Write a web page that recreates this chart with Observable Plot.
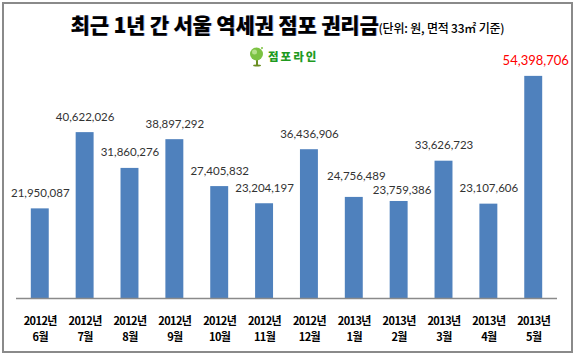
<!DOCTYPE html>
<html><head><meta charset="utf-8">
<script src="https://cdn.jsdelivr.net/npm/d3@7"></script>
<script src="https://cdn.jsdelivr.net/npm/@observablehq/plot@0.6"></script>
<style>
body{margin:0;background:#fff;}
#wrap{position:relative;width:575px;height:356px;overflow:hidden;}
#border{position:absolute;left:2px;top:2px;width:567px;height:347px;border:2px solid #8a8a8a;box-sizing:content-box;}
#title{position:absolute;left:0;top:9px;width:575px;text-align:center;white-space:nowrap;font-family:"Noto Sans CJK KR";}
#title .main{font-size:21px;font-weight:900;letter-spacing:-0.2px;color:#000;text-shadow:1px 0 0 rgba(40,60,200,0.35);}
#title .sub{font-size:12px;font-weight:500;color:#000;letter-spacing:-0.2px;}
#logo{position:absolute;left:249px;top:45px;height:22px;display:flex;align-items:center;font-family:"Noto Sans CJK KR";}
#logo span{font-size:11.5px;font-weight:900;color:#1f9a1f;letter-spacing:2px;margin-left:3px;}
#chart{position:absolute;left:0;top:0;}
#chart svg text.val{letter-spacing:-0.3px;}
#chart svg [aria-label="x-axis tick label"] text{letter-spacing:-0.6px;}
</style></head>
<body>
<div id="wrap">
  <div id="chart"></div>
  <div id="border"></div>
  <div id="title"><span class="main">최근 1년 간 서울 역세권 점포 권리금</span><span class="sub">(단위: 원, 면적 33㎡ 기준)</span></div>
  <div id="logo"><svg width="16" height="21" viewBox="0 0 16 21"><rect x="7" y="11" width="2" height="8" fill="#6b8e23"/><ellipse cx="8" cy="19.5" rx="4" ry="1" fill="#6b8e23"/><circle cx="7.5" cy="8" r="6.5" fill="#7cc242"/><circle cx="5.5" cy="6" r="2.5" fill="#b5e08a"/><circle cx="13" cy="2" r="1" fill="#7cc242"/></svg><span>점포라인</span></div>
</div>
<script>
const years = ["2012년","2012년","2012년","2012년","2012년","2012년","2012년","2013년","2013년","2013년","2013년","2013년"];
const months = ["6월","7월","8월","9월","10월","11월","12월","1월","2월","3월","4월","5월"];
const values = [21950087,40622026,31860276,38897292,27405832,23204197,36436906,24756489,23759386,33626723,23107606,54398706];
// manual label nudges seen in the reference (pixels)
const labelNudgeY = [0,0,0,0,0,0,0,-5,5,0,0,0];
const labelNudgeX = [0,0,0,0,0,0,0,2,3,0,0,2];

const data = values.map((v,i)=>({key: years[i]+"\n"+months[i], value: v, last: i===values.length-1, i}));
const fmt = d3.format(",");
const normal = data.filter(d=>!d.last);
const last = data.filter(d=>d.last);

const chart = Plot.plot({
  width: 575,
  height: 356,
  marginTop: 53,
  marginBottom: 58,
  marginLeft: 16,
  marginRight: 18,
  style: {background: "transparent", overflow: "visible"},
  x: {domain: data.map(d=>d.key), paddingInner: 0.6, paddingOuter: 0.33, round: false, label: null, tickSize: 0, tickPadding: 15},
  y: {domain: [0, 60000000], axis: null},
  marks: [
    Plot.barY(data, {x: "key", y: "value", fill: "#4f81bd"}),
    Plot.ruleY([0], {stroke: "#8a8a8a", strokeWidth: 1.5}),
    ...normal.map(d => Plot.text([d], {x: "key", y: "value", text: d=>fmt(d.value), dy: -12 + labelNudgeY[d.i], dx: labelNudgeX[d.i], lineAnchor: "bottom", fill: "#333", fontSize: 11.5, fontFamily: "Lato", className: "val"})),
    Plot.text(last, {x: "key", y: "value", text: d=>fmt(d.value), dy: -11, dx: labelNudgeX[11], lineAnchor: "bottom", fill: "#ff0000", fontSize: 13, fontFamily: "Lato", className: "val"}),
    Plot.axisX({tickSize: 0, tickPadding: 15, fontSize: 11, fontWeight: "bold", fontFamily: "Noto Sans CJK KR", fill: "#000", label: null, lineHeight: 1.45})
  ]
});
document.getElementById("chart").appendChild(chart);
</script>
</body></html>
